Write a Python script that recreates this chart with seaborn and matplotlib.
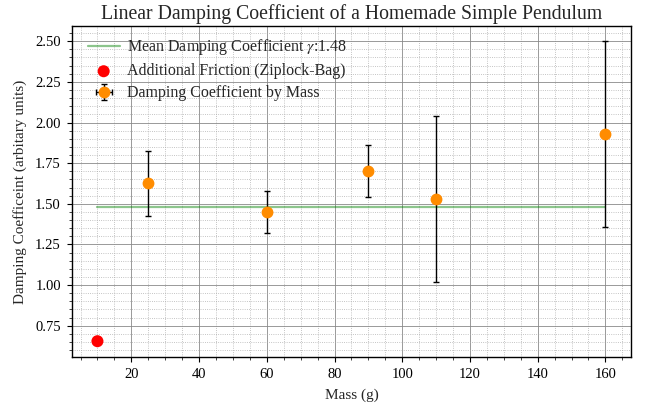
import numpy as np
import pandas as pd
import seaborn as sns
import matplotlib
matplotlib.use("Agg")
import matplotlib.pyplot as plt
from matplotlib.ticker import MultipleLocator

# Data
masses = [25, 60, 90, 110, 160]
gammas = [1.625, 1.45, 1.70, 1.53, 1.93]
gamma_err = [0.20, 0.13, 0.16, 0.51, 0.57]
mass_err = [0.5, 0.5, 0.5, 0.5, 0.5]
bag_mass = [10]
bag_gamma = [0.655]
mean_gamma = 1.48
mean_span = [10, 160]

sns.set_theme(style="ticks")
plt.rcParams['font.family'] = ['Liberation Serif', 'DejaVu Serif']
plt.rcParams['mathtext.fontset'] = 'stix'

fig = plt.figure(figsize=(6.49, 4.09), dpi=100)
ax = fig.add_axes([0.111, 0.127, 0.861, 0.809])

ax.plot(mean_span, [mean_gamma, mean_gamma], color='green', alpha=0.45, lw=1.6,
        label=r'Mean Damping Coefficient $\gamma$:1.48', zorder=2)

bag_df = pd.DataFrame({'m': bag_mass, 'g': bag_gamma})
sns.scatterplot(data=bag_df, x='m', y='g', ax=ax, color='red', s=75, edgecolor='none',
                label='Additional Friction (Ziplock-Bag)', zorder=4)

ax.errorbar(masses, gammas, yerr=gamma_err, xerr=mass_err, fmt='o', color='darkorange',
            ecolor='black', elinewidth=1, capsize=2.3, capthick=1, markersize=7.5,
            label='Damping Coefficient by Mass', zorder=3)

ax.set_xlim(2.5, 167.5)
ax.set_ylim(0.5575, 2.5925)
ax.xaxis.set_major_locator(MultipleLocator(20))
ax.xaxis.set_minor_locator(MultipleLocator(5))
ax.yaxis.set_minor_locator(MultipleLocator(0.05))
ax.set_yticks(np.arange(0.75, 2.51, 0.25))
ax.yaxis.set_major_formatter(matplotlib.ticker.FormatStrFormatter('%.2f'))

ax.grid(which='major', color='#888888', lw=0.7, alpha=0.85)
ax.grid(which='minor', color='#a8a8a8', lw=0.6, ls=':', alpha=0.9)
ax.set_axisbelow(True)

ax.tick_params(which='major', direction='out', length=3.5, width=0.8, labelsize=10.5,
               colors='black', pad=4.5)
ax.tick_params(which='minor', direction='out', length=2, width=0.6)
for s in ax.spines.values():
    s.set_color('black')
    s.set_linewidth(1.0)

ax.set_xlabel('Mass (g)', fontsize=11, labelpad=5)
ax.set_ylabel('Damping Coefficeint (arbitary units)', fontsize=11, labelpad=6)
ax.set_title('Linear Damping Coefficient of a Homemade Simple Pendulum', fontsize=14.2, pad=5)

ax.legend(loc='upper left', bbox_to_anchor=(0.008, 1.0), frameon=False, fontsize=11.5,
          handlelength=2.0, borderaxespad=0.3, labelspacing=0.38, handletextpad=0.45)

fig.savefig('out.png', dpi=100)
